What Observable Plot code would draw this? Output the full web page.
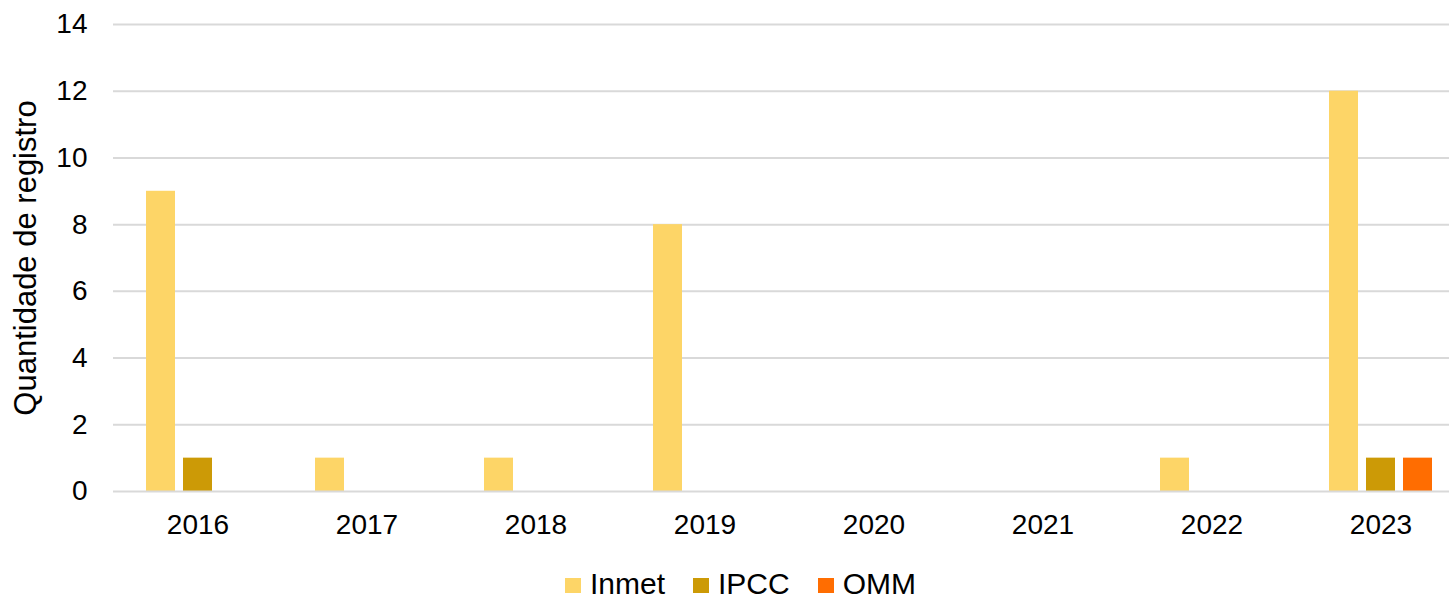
<!DOCTYPE html>
<html>
<head>
<meta charset="utf-8">
<script src="https://cdn.jsdelivr.net/npm/d3@7"></script>
<script src="https://cdn.jsdelivr.net/npm/@observablehq/plot@0.6"></script>
<style>
  html, body { margin: 0; padding: 0; background: #fff; }
  body { width: 1449px; height: 600px; overflow: hidden; font-family: "Liberation Sans", Arial, sans-serif; }
  #chart svg { overflow: hidden; }
  #legend { display: flex; justify-content: center; align-items: center; height: 40px; padding-left: 32px; padding-top: 8px; box-sizing: border-box; width: 1449px; font-size: 30px; color: #000; }
  .item { display: flex; align-items: center; margin: 0 14px; }
  .sw { width: 16px; height: 15px; margin-right: 9px; margin-top: 3px; }
</style>
</head>
<body>
<div id="chart"></div>
<div id="legend"></div>
<script>
const years = ["2016", "2017", "2018", "2019", "2020", "2021", "2022", "2023"];
const seriesNames = ["Inmet", "IPCC", "OMM"];
const seriesColors = ["#fdd567", "#cc9a06", "#ff6d01"];
const inmet = [9, 1, 1, 8, 0, 0, 1, 12];
const ipcc  = [1, 0, 0, 0, 0, 0, 0, 1];
const omm   = [0, 0, 0, 0, 0, 0, 0, 1];
const yTicks = [0, 2, 4, 6, 8, 10, 12, 14];
const yLabel = "Quantidade de registro";

const seriesValues = [inmet, ipcc, omm];
const data = [];
years.forEach((yr, i) => {
  seriesNames.forEach((s, j) => data.push({year: yr, series: s, value: seriesValues[j][i]}));
});

const plot = Plot.plot({
  width: 1449,
  height: 560,
  marginTop: 24,
  marginBottom: 69,
  marginLeft: 113,
  marginRight: 0,
  style: { fontFamily: "Liberation Sans, Arial, sans-serif", fontSize: "28px", color: "#000", background: "#fff" },
  fx: { domain: years, padding: 0, range: [113, 1465], label: null, axis: "bottom", tickSize: 0, tickPadding: 23 },
  x: { domain: seriesNames, paddingInner: 0.213, paddingOuter: 0.86, axis: null },
  y: { domain: [0, 14], axis: null },
  color: { domain: seriesNames, range: seriesColors },
  marks: [
    Plot.axisY({ ticks: yTicks, tickSize: 0, tickPadding: 26, label: null, fontSize: 28 }),
    Plot.axisY({ ticks: [], label: yLabel, labelAnchor: "center", labelOffset: 100, labelArrow: false, fontSize: 31 }),
    Plot.ruleY(yTicks.filter(d => d > 0), { stroke: "#d9d9d9", strokeWidth: 2 }),
    Plot.barY(data, { fx: "year", x: "series", y: "value", fill: "series" }),
    Plot.ruleY([0], { stroke: "#d9d9d9", strokeWidth: 2 })
  ]
});
document.getElementById("chart").appendChild(plot);

const legend = document.getElementById("legend");
seriesNames.forEach((s, i) => {
  const it = document.createElement("div");
  it.className = "item";
  const sw = document.createElement("span");
  sw.className = "sw";
  sw.style.background = seriesColors[i];
  const tx = document.createElement("span");
  tx.textContent = s;
  it.appendChild(sw);
  it.appendChild(tx);
  legend.appendChild(it);
});
</script>
</body>
</html>
